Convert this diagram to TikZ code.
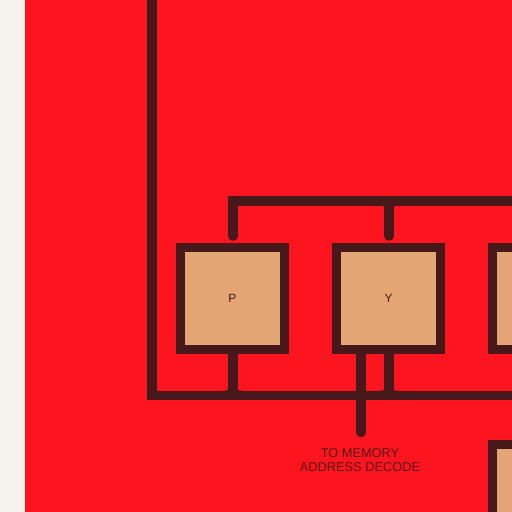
\documentclass[tikz,border=0pt]{standalone}
\usepackage{fontspec}
\setmainfont{Liberation Sans}
\definecolor{bgred}{RGB}{252,20,30}
\definecolor{wire}{RGB}{70,24,26}
\definecolor{tan}{RGB}{228,166,116}
\definecolor{paper}{RGB}{245,243,236}
\definecolor{lbl}{RGB}{90,20,24}
\tikzset{
  regbox/.style={rectangle, draw=wire, fill=tan, line width=9pt, minimum width=104pt, minimum height=102pt, inner sep=0pt, font=\fontsize{12}{14}\selectfont, text=wire},
  wireline/.style={draw=wire, line width=9.5pt},
  tipwire/.style={wireline, line cap=round},
}
\newcommand{\filletL}[3]{%
  \fill[wire] (#1-5,#2) .. controls (#1,#2) .. (#1,#2+#3*5) -- (#1,#2) -- cycle;}
\newcommand{\filletR}[3]{%
  \fill[wire] (#1+5,#2) .. controls (#1,#2) .. (#1,#2+#3*5) -- (#1,#2) -- cycle;}
\begin{document}
\begin{tikzpicture}[x=1pt,y=-1pt]
\useasboundingbox (0,0) rectangle (512,512);
\clip (0,0) rectangle (512,512);
\fill[paper] (0,0) rectangle (25,512);
\fill[bgred] (25,0) rectangle (512,512);
\coordinate (ltop) at (152,-10);
\coordinate (lcorner) at (152,395.5);
\coordinate (bright) at (530,395.5);
\coordinate (tleft) at (233,201);
\coordinate (tright) at (530,201);
\coordinate (memtip) at (361,432.5);
\node[regbox] (P) at (232.5,298.5) {P};
\node[regbox] (Y) at (388.5,298.5) {Y};
\node[regbox] (R) at (544.5,298.5) {};
\node[regbox] (B) at (544.5,495.5) {};
\draw[wireline] (ltop) -- (lcorner) -- (bright);
\coordinate (ptop) at (233,236);
\coordinate (ytop) at (389,236);
\draw[wireline] (tright) -- (tleft) -- (tleft |- ptop);
\draw[tipwire] (tleft |- ptop) -- ++(0,-2);
\draw[wireline] (ytop |- tleft) -- (ytop);
\draw[tipwire] (ytop) -- ++(0,-2);
\filletL{384.25}{205.75}{1}
\filletR{393.75}{205.75}{1}
\draw[wireline] (P.south -| tleft) -- (tleft |- lcorner);
\draw[wireline] (Y.south -| ytop) -- (ytop |- lcorner);
\filletL{228.25}{390.75}{-1}
\filletR{237.75}{390.75}{-1}
\filletL{384.25}{390.75}{-1}
\filletR{393.75}{390.75}{-1}
\draw[tipwire] (Y.south -| memtip) -- (memtip);
\node[text=lbl, align=center, font=\fontsize{12.8}{14}\selectfont] (mem) at (360,460) {TO MEMORY\\ADDRESS DECODE};
\end{tikzpicture}
\end{document}
